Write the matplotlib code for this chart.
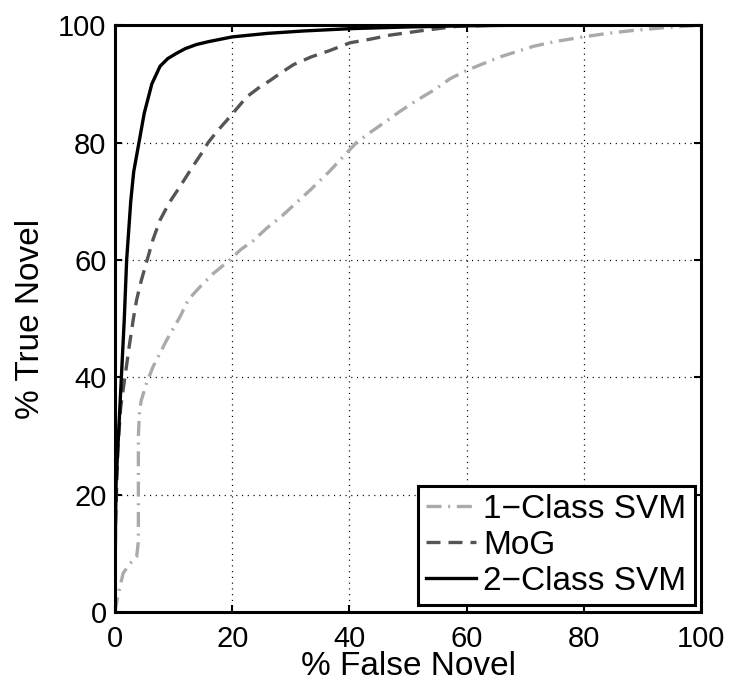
import matplotlib
matplotlib.use('Agg')
import matplotlib.pyplot as plt

plt.rcParams['font.family'] = ['Liberation Sans', 'DejaVu Sans']

# ROC curves (% False Novel, % True Novel)
svm1_x = [0, 0.6, 1.4, 2.5, 3.7, 4.0, 4.0, 4.2, 4.5, 5.4, 6.5, 8.8, 11.1, 12.5,
          14.5, 16.8, 19.6, 21.5, 23.5, 26.0, 28.5, 31.0, 33.3, 36.5, 39.5,
          41.2, 43.5, 45.8, 48.6, 51.5, 54.5, 57.2, 60.0, 65.7, 71.4, 75.0,
          79.9, 84.0, 88.4, 94.0, 100]
svm1_y = [0, 3.2, 6.6, 8.2, 9.4, 12, 30, 34.4, 36.1, 39.0, 41.8, 46.3, 50.3, 53.2,
          55.4, 57.7, 60.0, 61.8, 63.2, 65.5, 67.5, 69.8, 71.9, 75.0, 78.2,
          80.0, 81.7, 83.3, 85.3, 87.2, 89.0, 90.9, 92.3, 94.6, 96.4, 97.2,
          98.0, 98.6, 99.1, 99.6, 100]

mog_x = [0, 0.1, 0.5, 1.0, 1.7, 2.4, 3.1, 3.7, 4.5, 5.5, 6.5, 7.7, 9.3, 11.1, 13.0,
         14.8, 15.9, 17.5, 19.1, 20.8, 22.5, 24.5, 26.5, 28.5, 30.5, 33.5, 36.7,
         40.1, 43.5, 46.9, 52.6, 58.3, 65.0, 100]
mog_y = [0, 15, 28, 35, 40, 45, 49.7, 53.2, 56.5, 60.0, 63.5, 66.8, 69.8, 72.5, 75.5,
         78.2, 80.0, 82.0, 83.8, 85.8, 87.8, 89.3, 90.6, 92.0, 93.3, 94.6, 95.7,
         97.0, 97.6, 98.3, 99.1, 99.8, 100, 100]

svm2_x = [0, 0.1, 0.2, 0.6, 1.1, 1.6, 2.0, 2.7, 3.2, 4.1, 5.0, 6.3, 7.7, 9.0, 10.5,
          12.0, 13.9, 16.0, 20.0, 26.0, 32.0, 40.0, 50.0, 60.0, 70.0, 100]
svm2_y = [0, 15, 22, 30, 40, 50, 60, 70, 75, 80, 85, 90, 93, 94.3, 95.2,
          96.0, 96.7, 97.2, 98.0, 98.6, 99.0, 99.4, 99.7, 99.9, 100, 100]

labels = ['1\u2212Class SVM', 'MoG', '2\u2212Class SVM']
ticks = [0, 20, 40, 60, 80, 100]

fig = plt.figure(figsize=(7.32, 6.82), dpi=100)
ax = fig.add_axes([0.157, 0.1026, 0.801, 0.8605])

ax.plot(svm1_x, svm1_y, color='#aaaaaa', lw=2.4, label=labels[0],
        dashes=(4.5, 2, 0.6, 2))
ax.plot(mog_x, mog_y, color='#555555', lw=2.4, label=labels[1],
        dashes=(4.2, 2.4))
ax.plot(svm2_x, svm2_y, '-', color='black', lw=2.4, label=labels[2])

ax.set_xlim(0, 100)
ax.set_ylim(0, 100)
ax.set_xticks(ticks)
ax.set_yticks(ticks)
ax.grid(True, linestyle=(0, (0.9, 3.7)), color='black', lw=0.9)
ax.tick_params(direction='in', length=5, width=1.5, labelsize=21,
               top=True, right=True, pad=6)
ax.tick_params(axis='x', pad=9)
for s in ax.spines.values():
    s.set_linewidth(2.2)

ax.set_xlabel('% False Novel', fontsize=24, labelpad=-1)
ax.set_ylabel('% True Novel', fontsize=24, labelpad=9)

leg = ax.legend(loc='lower right', fontsize=24, fancybox=False, framealpha=1,
                edgecolor='black', handlelength=1.5, handletextpad=0.2,
                labelspacing=0.15, borderpad=0.25, borderaxespad=0.2)
leg.get_frame().set_linewidth(2.2)

fig.savefig('out.png', dpi=100)
